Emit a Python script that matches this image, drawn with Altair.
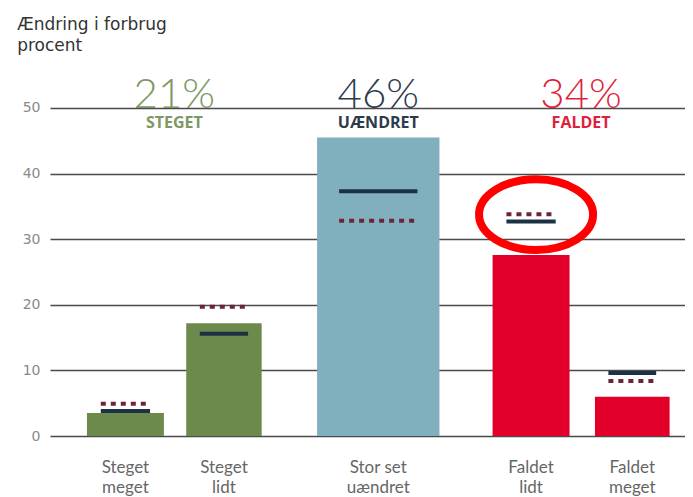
import altair as alt
import pandas as pd

# ---- data ----
categories = ["Steget meget", "Steget lidt", "Stor set uændret", "Faldet lidt", "Faldet meget"]
axis_labels = ["Steget\nmeget", "Steget\nlidt", "Stor set\nuændret", "Faldet\nlidt", "Faldet\nmeget"]
values = [3.5, 17.2, 45.5, 27.6, 6.0]          # bars
solid_marker = [3.8, 15.6, 37.3, 32.7, 9.6]    # solid dark line
dotted_marker = [4.9, 19.7, 32.8, 33.8, 8.4]   # dotted line
bar_start = [0.48, 1.77, 3.47, 5.75, 7.08]     # slot layout (bar extents)
bar_end = [1.48, 2.75, 5.06, 6.75, 8.05]
bar_colors = ["#6c8a4b", "#6c8a4b", "#80b0bd", "#e2002a", "#e2002a"]

group_pct = ["21%", "46%", "34%"]
group_name = ["STEGET", "UÆNDRET", "FALDET"]
group_colors = ["#7d9862", "#2c3a4c", "#df1f3d"]
group_members = [[0, 1], [2], [3, 4]]

y_ticks = [0, 10, 20, 30, 40, 50]
highlight_category = "Faldet lidt"

FONT = "Lato"
WIDE = "DejaVu Sans"

bars = pd.DataFrame({
    "cat": categories,
    "label": axis_labels,
    "start": bar_start,
    "end": bar_end,
    "value": values,
    "solid": solid_marker,
    "dotted": dotted_marker,
    "color": bar_colors,
})
bars["center"] = (bars["start"] + bars["end"]) / 2

groups = pd.DataFrame({
    "pct": group_pct,
    "name": group_name,
    "color": group_colors,
    "center": [(bar_start[m[0]] + bar_end[m[-1]]) / 2 for m in group_members],
})

hl = bars[bars["cat"] == highlight_category].copy()
hl["ymid"] = (hl["solid"] + hl["dotted"]) / 2 + 0.5
hl["xmid"] = hl["center"] + 0.065

xscale = alt.Scale(domain=[0, 8.25], nice=False, zero=False)
yscale = alt.Scale(domain=[0, 57.3], nice=False)

base = alt.Chart(bars)

bar_layer = base.mark_bar().encode(
    x=alt.X("start:Q", scale=xscale, axis=None),
    x2="end:Q",
    y=alt.Y("value:Q", scale=yscale,
            axis=alt.Axis(values=y_ticks, grid=True, domain=False, ticks=False,
                          labelPadding=10, labelFontSize=14, labelColor="#8a8a8a",
                          labelFont=WIDE, gridColor="#4a4a4a", gridWidth=1.3, title=None)),
    y2=alt.datum(0),
    color=alt.Color("color:N", scale=None),
)

marker_base = base.transform_calculate(
    m0="datum.start + 0.18*(datum.end - datum.start)",
    m1="datum.end - 0.18*(datum.end - datum.start)",
)

solid_layer = marker_base.mark_rule(strokeWidth=4, color="#1d3145").encode(
    x="m0:Q", x2="m1:Q", y="solid:Q"
)
dotted_layer = marker_base.mark_rule(strokeWidth=4, color="#6e2438", strokeDash=[5, 5]).encode(
    x="m0:Q", x2="m1:Q", y="dotted:Q"
)

xlabel_layer = base.mark_text(
    baseline="top", dy=24, fontSize=17, lineHeight=20, color="#666666",
    font=FONT, lineBreak="\n",
).encode(x="center:Q", y=alt.datum(0), text="label:N")

gbase = alt.Chart(groups)
pct_layer = gbase.mark_text(
    baseline="alphabetic", dy=0, fontSize=42, fontWeight=300, font=FONT,
).encode(x="center:Q", y=alt.datum(50), text="pct:N",
         color=alt.Color("color:N", scale=None))
name_layer = gbase.mark_text(
    baseline="alphabetic", dy=20, fontSize=16, fontWeight="bold", font="Open Sans",
).encode(x="center:Q", y=alt.datum(50), text="name:N",
         color=alt.Color("color:N", scale=None))

ellipse_path = "M-1,0A1,0.62,0,1,1,1,0A1,0.62,0,1,1,-1,0Z"
ellipse_layer = alt.Chart(hl).mark_point(
    shape=ellipse_path, size=13000, filled=False, strokeWidth=8,
    color="#ff0000", opacity=1,
).encode(x="xmid:Q", y="ymid:Q")

chart = alt.layer(
    bar_layer, solid_layer, dotted_layer, xlabel_layer, pct_layer, name_layer, ellipse_layer
).properties(
    width=635,
    height=376,
    autosize=alt.AutoSizeParams(type="none"),
    padding={"left": 42, "top": 52, "right": 0, "bottom": 61},
    title=alt.TitleParams(
        ["Ændring i forbrug", "procent"], anchor="start", fontSize=17,
        fontWeight="normal", color="#333333", font=WIDE, dx=-5, offset=5,
        lineHeight=21,
    ),
).configure_view(stroke=None)

chart.save("out.html", embed_options={"renderer": "svg", "actions": False})
